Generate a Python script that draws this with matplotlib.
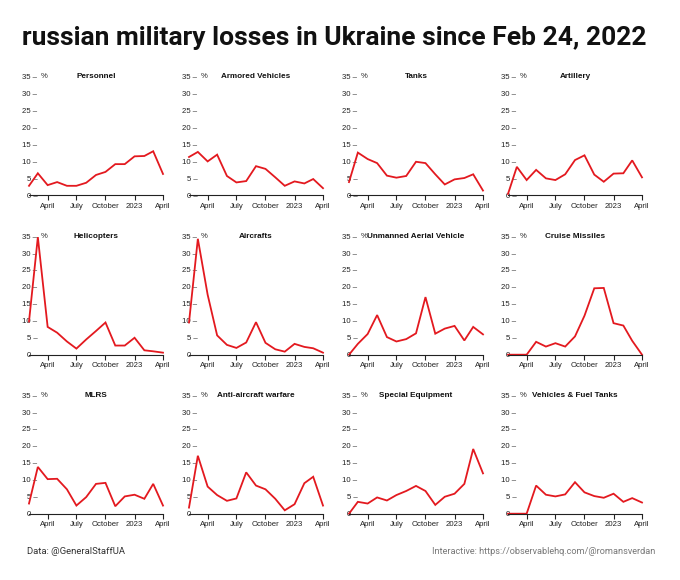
import matplotlib
matplotlib.use("Agg")
import matplotlib.pyplot as plt
import matplotlib.transforms as mtransforms
import pandas as pd

# ---- data (monthly share of losses, %) ----
months = pd.date_range("2022-02-01", periods=15, freq="MS")
tick_dates = ["2022-04-01", "2022-07-01", "2022-10-01", "2023-01-01", "2023-04-01"]
tick_labels = ["April", "July", "October", "2023", "April"]
y_ticks = [0, 5, 10, 15, 20, 25, 30, 35]

titles = ["Personnel", "Armored Vehicles", "Tanks", "Artillery",
          "Helicopters", "Aircrafts", "Unmanned Aerial Vehicle", "Cruise Missiles",
          "MLRS", "Anti-aircraft warfare", "Special Equipment", "Vehicles & Fuel Tanks"]

personnel = [2.8, 6.5, 3.0, 3.9, 2.8, 2.8, 3.7, 6.0, 6.9, 9.2, 9.2, 11.5, 11.6, 13.0, 6.3]
armored = [11.3, 12.8, 10.0, 12.0, 5.7, 3.8, 4.2, 8.6, 7.8, 5.3, 2.8, 4.1, 3.5, 4.8, 2.1]
tanks = [3.9, 12.6, 10.7, 9.5, 5.8, 5.2, 5.7, 9.9, 9.5, 6.2, 3.2, 4.7, 5.1, 6.2, 1.4]
artillery = [0.4, 8.4, 4.5, 7.5, 5.0, 4.5, 6.2, 10.4, 11.8, 6.1, 4.0, 6.4, 6.5, 10.3, 5.3]
helicopters = [9.8, 34.7, 8.2, 6.5, 3.9, 1.8, 4.5, 7.0, 9.5, 2.7, 2.7, 5.0, 1.3, 1.0, 0.6]
aircrafts = [9.5, 34.2, 17.7, 5.7, 2.9, 2.0, 3.6, 9.6, 3.5, 1.6, 0.9, 3.2, 2.3, 1.9, 0.6]
uav = [0.0, 3.2, 6.1, 11.7, 5.2, 3.9, 4.6, 6.3, 17.0, 6.2, 7.7, 8.5, 4.2, 8.2, 6.0]
cruise = [0.0, 0.0, 0.0, 3.8, 2.4, 3.4, 2.4, 5.4, 11.5, 19.6, 19.7, 9.3, 8.6, 4.1, 0.0]
mlrs = [3.0, 13.8, 10.2, 10.3, 7.2, 2.4, 4.9, 8.8, 9.1, 2.2, 5.1, 5.6, 4.4, 8.8, 2.4]
anti_aircraft = [1.8, 17.1, 8.0, 5.5, 3.8, 4.5, 12.2, 8.3, 7.2, 4.4, 1.0, 2.8, 9.0, 10.9, 2.4]
special = [0.0, 3.5, 3.0, 4.8, 3.9, 5.5, 6.7, 8.2, 6.7, 2.6, 5.0, 5.9, 8.8, 19.1, 11.9]
vehicles_fuel = [0.0, 0.0, 0.0, 8.3, 5.6, 5.1, 5.7, 9.3, 6.3, 5.2, 4.7, 5.9, 3.5, 4.6, 3.3]

series = [personnel, armored, tanks, artillery,
          helicopters, aircrafts, uav, cruise,
          mlrs, anti_aircraft, special, vehicles_fuel]

# ---- layout ----
W, H = 680, 580
fig = plt.figure(figsize=(W / 100, H / 100), dpi=100)
fig.patch.set_facecolor("white")

col_left = [29, 189, 349, 508]
row_bottom = [195.3, 354.7, 513.7]
ax_w, ax_h = 134, 118.6

label_font = "Liberation Sans"
text_col = "#222222"
red = "#e3191f"
fs = 5.6

xmin = pd.Timestamp("2022-02-01")
xmax = pd.Timestamp("2023-04-01")

for i, (title, vals) in enumerate(zip(titles, series)):
    r, c = divmod(i, 4)
    ax = fig.add_axes([col_left[c] / W, 1 - row_bottom[r] / H, ax_w / W, ax_h / H])
    ax.plot(months, vals, color=red, lw=1.3, clip_on=False, solid_joinstyle="miter")
    ax.set_xlim(xmin, xmax)
    ax.set_ylim(0, 35)
    for s in ["top", "right", "left"]:
        ax.spines[s].set_visible(False)
    ax.spines["bottom"].set_linewidth(0.8)
    ax.spines["bottom"].set_color("#222222")
    ax.set_xticks([pd.Timestamp(d) for d in tick_dates])
    ax.set_xticklabels(tick_labels, fontsize=fs, family=label_font, color=text_col)
    ax.tick_params(axis="x", length=3.5, width=0.8, color="#222222", pad=2)
    ax.set_yticks(y_ticks)
    ax.set_yticklabels([f"{v} \u2013" for v in y_ticks], fontsize=fs,
                       family=label_font, color=text_col)
    ax.tick_params(axis="y", length=0, pad=-6.0)
    ax.annotate("%", xy=(0, 35), xycoords=("axes fraction", "data"),
                xytext=(8.3, 0), textcoords="offset points",
                ha="left", va="center", fontsize=fs, family=label_font,
                color=text_col)
    blend = mtransforms.blended_transform_factory(ax.transAxes, ax.transData)
    ax.text(0.5, 35, title, transform=blend,
            ha="center", va="center", fontsize=5.9, fontweight="bold",
            family=label_font, color="#111111")
    ax.patch.set_alpha(0)

fig.text(22 / W, 1 - 38 / H, "russian military losses in Ukraine since Feb 24, 2022",
         fontsize=19, fontweight="bold", family="Roboto", color="#111111",
         ha="left", va="center")
fig.text(27 / W, 1 - 551 / H, "Data: @GeneralStaffUA", fontsize=6.8,
         family="Roboto", color="#333333", ha="left", va="center")
fig.text(655 / W, 1 - 551 / H, "Interactive: https://observablehq.com/@romansverdan",
         fontsize=6.6, family="Roboto", color="#777777", ha="right", va="center")

fig.savefig("out.png", dpi=100, facecolor="white")
